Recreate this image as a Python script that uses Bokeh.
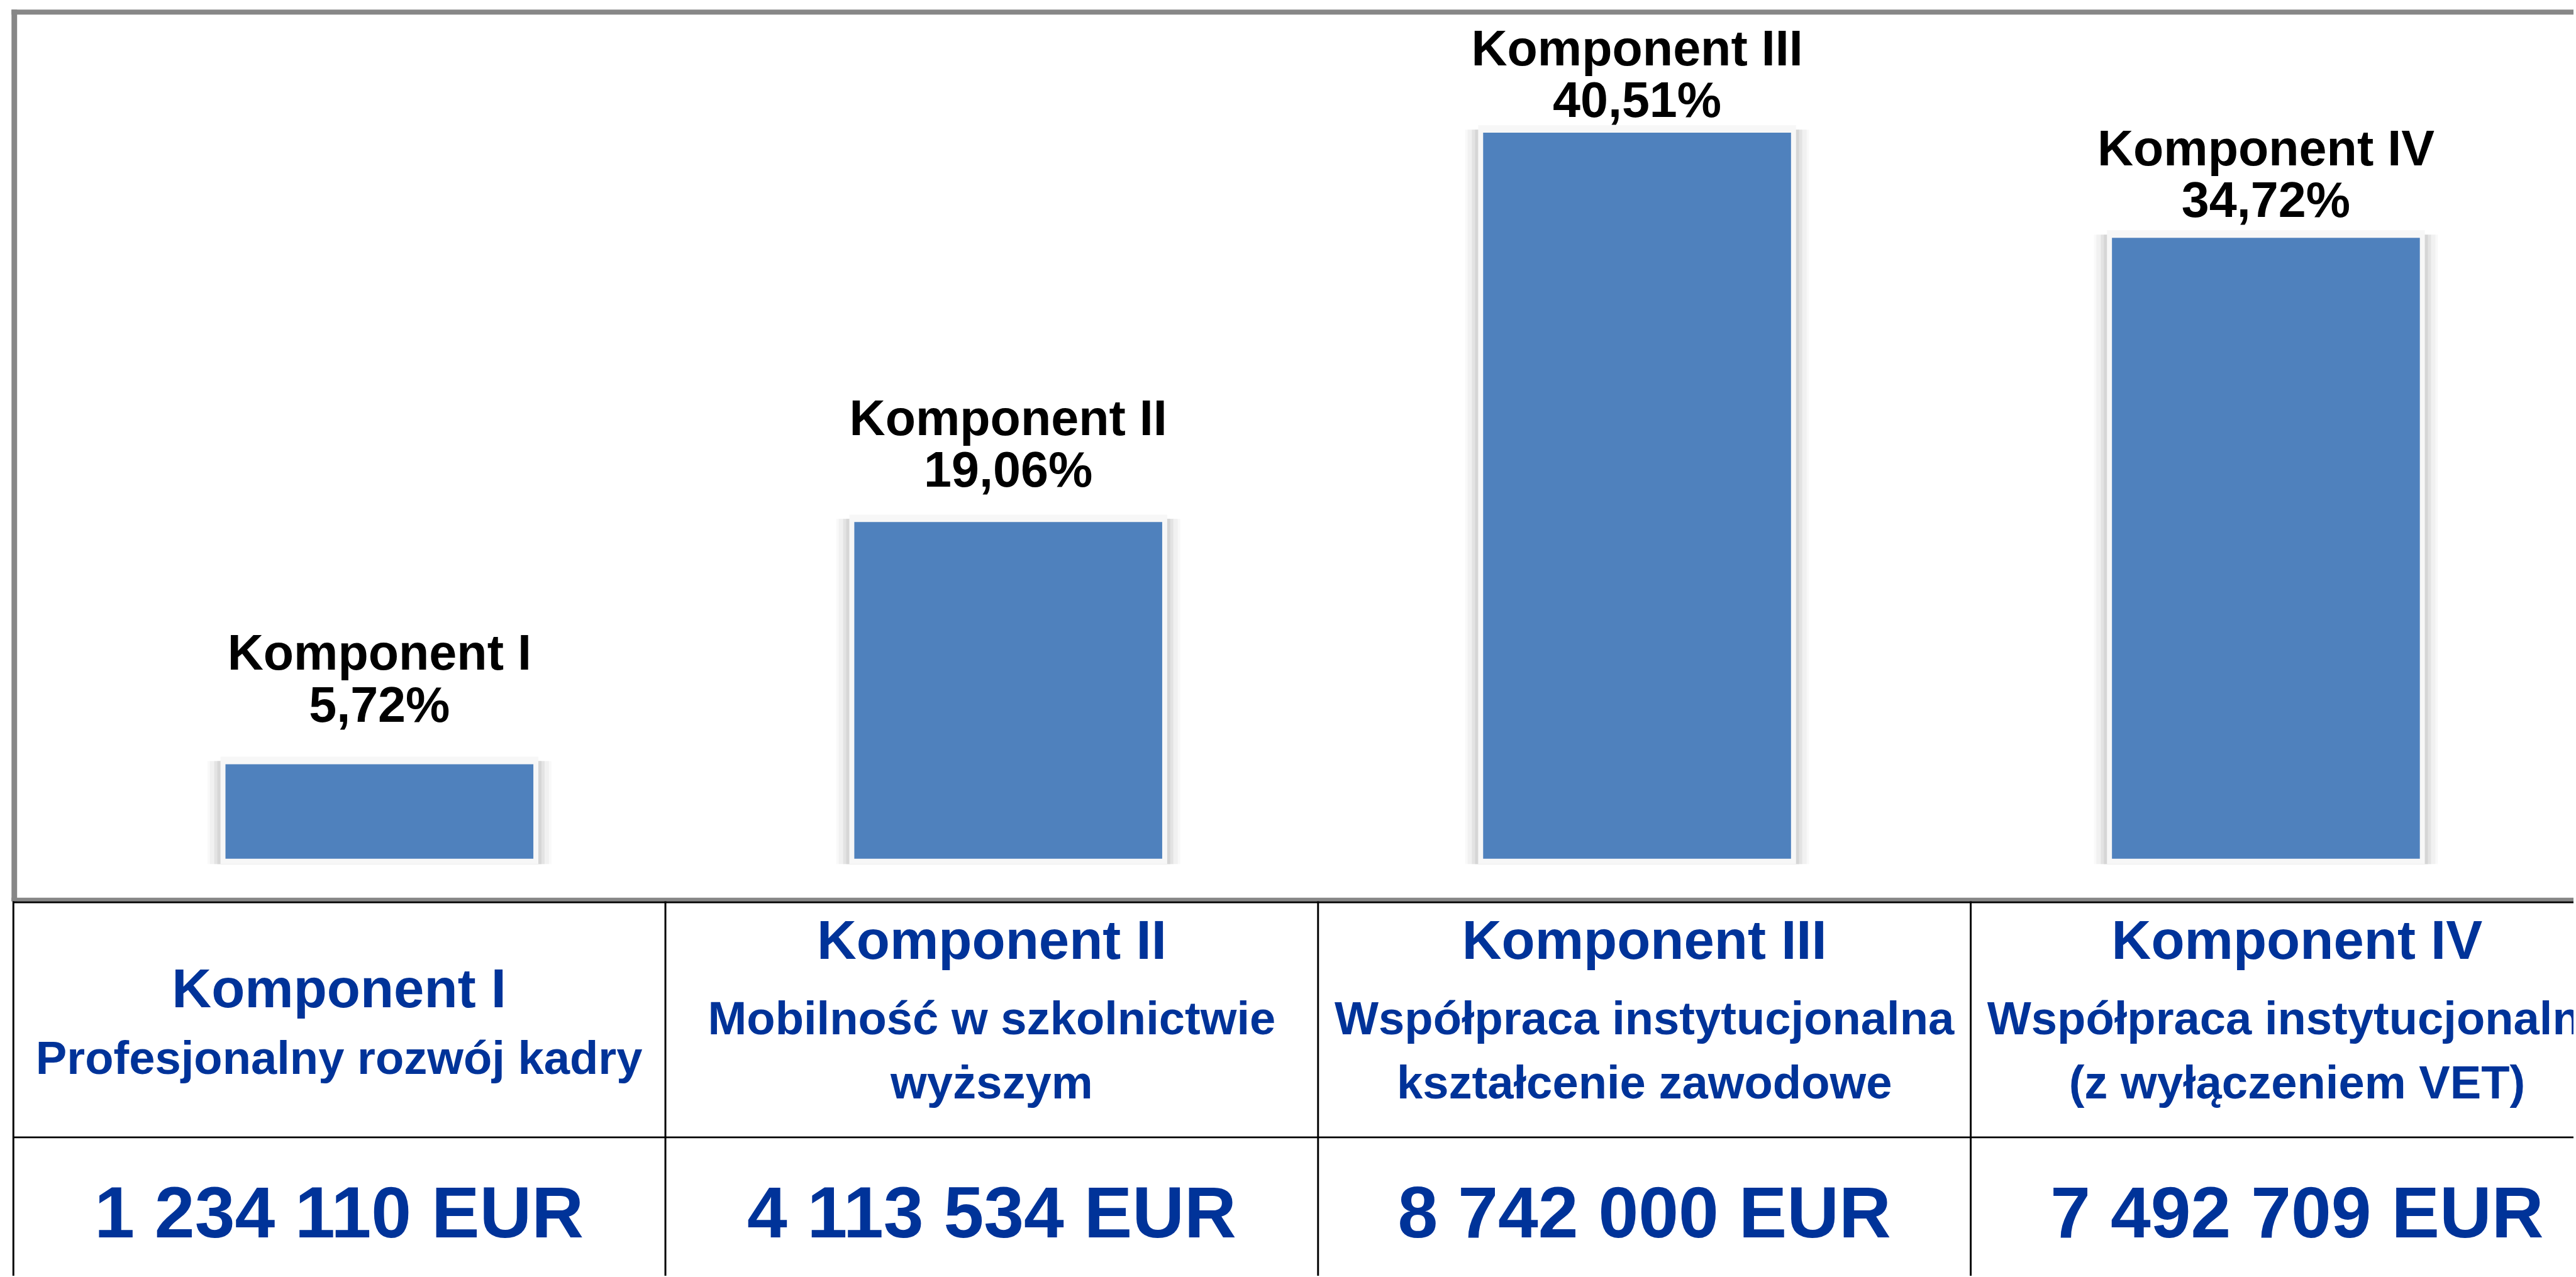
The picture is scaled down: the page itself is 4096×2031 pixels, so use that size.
from bokeh.plotting import figure
from bokeh.models import Range1d
from bokeh.embed import file_html
from bokeh.resources import INLINE
from bokeh.core.properties import value

# ---------------- data ----------------
components = ["Komponent I", "Komponent II", "Komponent III", "Komponent IV"]
shares = [5.72, 19.06, 40.51, 34.72]
descriptions = [
    ["Profesjonalny rozwój kadry"],
    ["Mobilność w szkolnictwie", "wyższym"],
    ["Współpraca instytucjonalna", "kształcenie zawodowe"],
    ["Współpraca instytucjonalna", "(z wyłączeniem VET)"],
]
amounts_eur = [1234110, 4113534, 8742000, 7492709]

share_labels = [("%.2f" % v).replace(".", ",") + "%" for v in shares]
amount_labels = [("{:,}".format(a)).replace(",", " ") + " EUR" for a in amounts_eur]

# ---------------- layout (reference-pixel units) ----------------
S = 0.989
MARGIN = 0                    # Bokeh's page template sets body margin to 0
W, H = 4092, 2029
RX0, RX1 = MARGIN / S, (MARGIN + W) / S
RY0, RY1 = MARGIN / S, (MARGIN + H) / S

BAR_X0, BAR_STEP, BAR_W = 609.5, 1011.0, 495.0
BASE_Y, PX_PER_PCT = 1395.4, 29.19
AXIS_FLOOR = 0.51            # value-axis minimum: bars start here
LABEL_GAP = [70, 58, 27, 35]  # gap between bar top and % baseline
LABEL_LINE = 83
LABEL_FS = 80
BASELINE_FIX = 0.33           # renderer places alphabetic baseline low

BORDER_GRAY = "#878787"
BAR_BLUE = "#4F81BD"
TABLE_BLUE = "#003399"
FONT = value("Liberation Sans")

TABLE_LEFT, COL_W = 20.0, 1049.3
HEAD_BASE = {1: 1618, 2: 1540}
DESC_BASE = {1: [1725], 2: [1662, 1765]}
AMOUNT_BASE = 1987
HEAD_FS, DESC_FS, AMOUNT_FS = 88, 75, 116

p = figure(
    width=W, height=H,
    x_range=Range1d((RX0 - BAR_X0) / BAR_STEP, (RX1 - BAR_X0) / BAR_STEP),
    y_range=Range1d((BASE_Y - RY1) / PX_PER_PCT, (BASE_Y - RY0) / PX_PER_PCT),
    output_backend="svg", toolbar_location=None,
    x_axis_location=None, y_axis_location=None,
    min_border=0,
)
p.extra_x_ranges = {"rx": Range1d(RX0, RX1)}
p.extra_y_ranges = {"ry": Range1d(RY1, RY0)}
p.grid.visible = False
p.outline_line_color = None
p.background_fill_color = "white"
p.border_fill_color = "white"

idx = list(range(len(shares)))

# ---- bar glow / shadow layers ----
bot = AXIS_FLOOR - 8.5 / PX_PER_PCT
for ext, col, up in [(29, "#F9F9F9", 5), (25, "#F1F1F1", 5), (18, "#E3E3E3", 5),
                     (13, "#D6D6D6", 5), (8, "#F7F7F7", 12)]:
    p.vbar(x=idx, width=(BAR_W + 2 * ext) / BAR_STEP,
           top=[v + up / PX_PER_PCT for v in shares], bottom=bot,
           fill_color=col, line_color=None)

# ---- bars ----
p.vbar(x=idx, width=BAR_W / BAR_STEP, top=shares, bottom=AXIS_FLOOR,
       fill_color=BAR_BLUE, line_color=None)

# ---- bar labels ----
fix = BASELINE_FIX * LABEL_FS
pct_y = [v + (g + fix) / PX_PER_PCT for v, g in zip(shares, LABEL_GAP)]
name_y = [y + LABEL_LINE / PX_PER_PCT for y in pct_y]
for ys, txt in [(pct_y, share_labels), (name_y, components)]:
    p.text(x=idx, y=ys, text=txt, text_font=FONT, text_font_style="bold",
           text_font_size="%.1fpx" % (LABEL_FS * S), text_color="black",
           text_align="center", text_baseline="alphabetic")

# ---- chart border (gray) ----
p.segment(x0=[22.5], y0=[15], x1=[22.5], y1=[1449], line_color=BORDER_GRAY,
          line_width=9 * S, x_range_name="rx", y_range_name="ry")
p.segment(x0=[18], y0=[19], x1=[RX1 + 20], y1=[19], line_color=BORDER_GRAY,
          line_width=8 * S, x_range_name="rx", y_range_name="ry")
p.segment(x0=[18], y0=[1446], x1=[RX1 + 20], y1=[1446], line_color=BORDER_GRAY,
          line_width=6 * S, x_range_name="rx", y_range_name="ry")

# ---- table grid ----
col_edges = [TABLE_LEFT + COL_W * j for j in range(len(components))]
col_edges[0] = 21
p.segment(x0=col_edges, y0=[1449] * len(col_edges), x1=col_edges,
          y1=[RY1 + 20] * len(col_edges), line_color="black", line_width=3 * S,
          x_range_name="rx", y_range_name="ry")
p.segment(x0=[20, 20], y0=[1450.5, 1828.5], x1=[RX1 + 20] * 2, y1=[1450.5, 1828.5],
          line_color="black", line_width=3 * S, x_range_name="rx", y_range_name="ry")

# ---- table text ----
centers = [TABLE_LEFT + COL_W * (j + 0.5) for j in range(len(components))]
hx, hy, ht = [], [], []
dx, dy, dt = [], [], []
for j, (name, desc) in enumerate(zip(components, descriptions)):
    n = len(desc)
    hx.append(centers[j]); hy.append(HEAD_BASE[n] - BASELINE_FIX * HEAD_FS); ht.append(name)
    for k, line in enumerate(desc):
        dx.append(centers[j]); dy.append(DESC_BASE[n][k] - BASELINE_FIX * DESC_FS); dt.append(line)

common = dict(text_font=FONT, text_font_style="bold", text_color=TABLE_BLUE,
              text_align="center", text_baseline="alphabetic",
              x_range_name="rx", y_range_name="ry")
p.text(x=hx, y=hy, text=ht, text_font_size="%.1fpx" % (HEAD_FS * S), **common)
p.text(x=dx, y=dy, text=dt, text_font_size="%.1fpx" % (DESC_FS * S), **common)
p.text(x=centers, y=[AMOUNT_BASE - BASELINE_FIX * AMOUNT_FS] * len(centers), text=amount_labels,
       text_font_size="%.1fpx" % (AMOUNT_FS * S), **common)

open("out.html", "w").write(file_html(p, INLINE))
